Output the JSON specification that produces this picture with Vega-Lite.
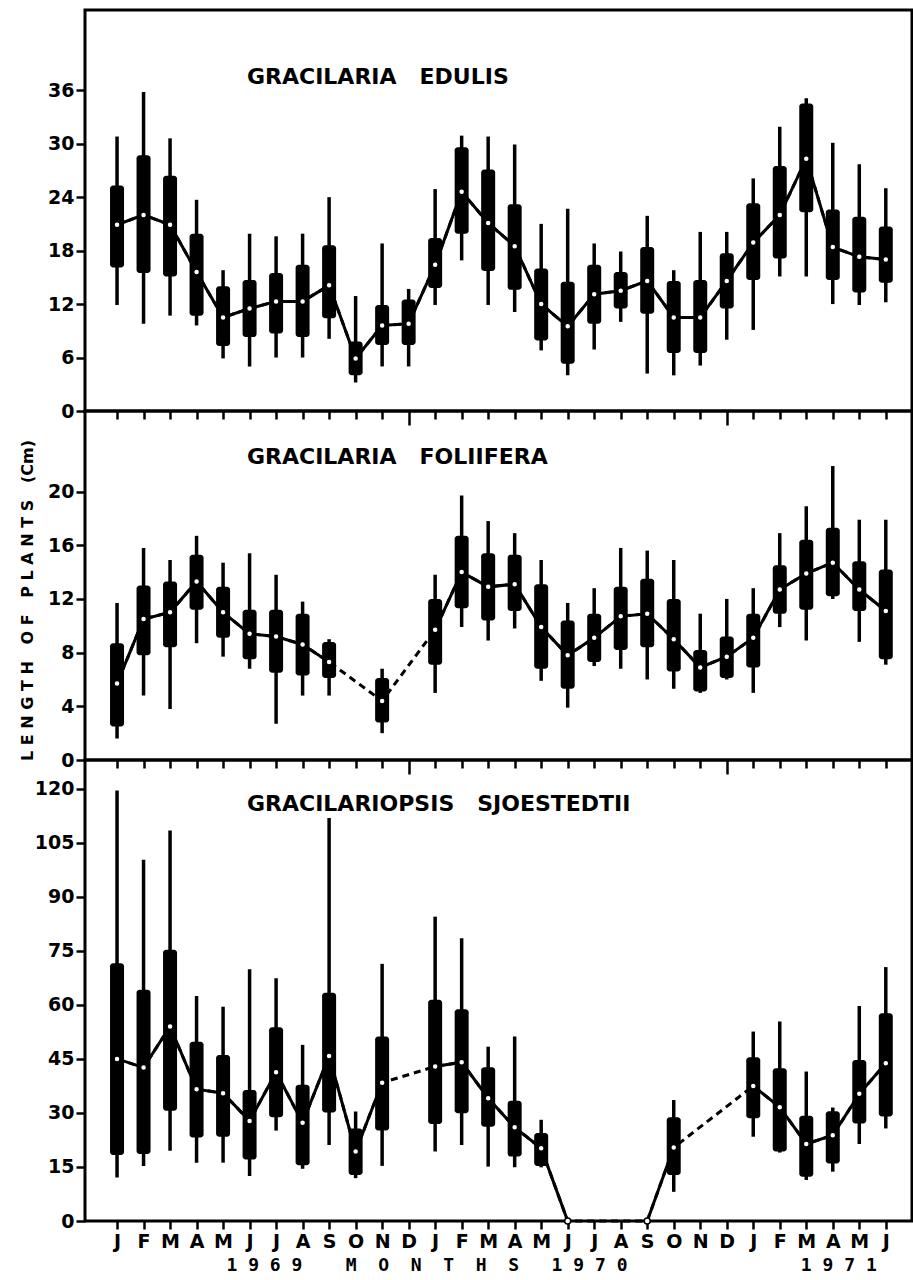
{
  "$schema": "https://vega.github.io/schema/vega-lite/v6.json",
  "background": "white",
  "padding": {"left": 17, "top": 8, "right": 0, "bottom": 0},
  "spacing": 0,
  "bounds": "flush",
  "config": {
    "view": {"stroke": "black", "strokeWidth": 3},
    "font": "DejaVu Sans",
    "axis": {"grid": false, "domain": false, "tickColor": "black", "tickWidth": 2.5, "labelColor": "black", "labelFont": "DejaVu Sans", "labelFontWeight": "bold", "labelFontSize": 19, "titleColor": "black", "labelOverlap": false, "labelFlush": false}
  },
  "data": {"values": [
    {"sp":"E","t":0,"min":11.9,"q1":16.1,"mean":20.9,"q3":25.3,"max":30.8,"run":1},
    {"sp":"E","t":1,"min":9.8,"q1":15.5,"mean":22.0,"q3":28.7,"max":35.8,"run":1},
    {"sp":"E","t":2,"min":10.7,"q1":15.1,"mean":20.9,"q3":26.4,"max":30.6,"run":1},
    {"sp":"E","t":3,"min":9.6,"q1":10.7,"mean":15.6,"q3":19.9,"max":23.7,"run":1},
    {"sp":"E","t":4,"min":5.9,"q1":7.3,"mean":10.5,"q3":14.0,"max":15.8,"run":1},
    {"sp":"E","t":5,"min":5.0,"q1":8.3,"mean":11.5,"q3":14.7,"max":19.9,"run":1},
    {"sp":"E","t":6,"min":6.0,"q1":8.7,"mean":12.3,"q3":15.5,"max":19.6,"run":1},
    {"sp":"E","t":7,"min":6.0,"q1":8.3,"mean":12.3,"q3":16.4,"max":19.9,"run":1},
    {"sp":"E","t":8,"min":8.1,"q1":10.4,"mean":14.1,"q3":18.6,"max":24.0,"run":1},
    {"sp":"E","t":9,"min":3.2,"q1":4.0,"mean":5.9,"q3":7.8,"max":12.9,"run":1},
    {"sp":"E","t":10,"min":5.0,"q1":7.4,"mean":9.6,"q3":11.9,"max":18.8,"run":1},
    {"sp":"E","t":11,"min":5.0,"q1":7.4,"mean":9.8,"q3":12.5,"max":13.7,"run":1},
    {"sp":"E","t":12,"min":11.9,"q1":13.8,"mean":16.4,"q3":19.4,"max":24.9,"run":1},
    {"sp":"E","t":13,"min":16.9,"q1":19.9,"mean":24.6,"q3":29.6,"max":30.9,"run":1},
    {"sp":"E","t":14,"min":11.9,"q1":15.7,"mean":21.1,"q3":27.1,"max":30.8,"run":1},
    {"sp":"E","t":15,"min":11.1,"q1":13.6,"mean":18.5,"q3":23.2,"max":29.9,"run":1},
    {"sp":"E","t":16,"min":6.8,"q1":7.9,"mean":12.0,"q3":16.0,"max":21.0,"run":1},
    {"sp":"E","t":17,"min":4.0,"q1":5.3,"mean":9.5,"q3":14.5,"max":22.7,"run":1},
    {"sp":"E","t":18,"min":6.9,"q1":9.8,"mean":13.1,"q3":16.4,"max":18.8,"run":1},
    {"sp":"E","t":19,"min":10.0,"q1":11.5,"mean":13.5,"q3":15.6,"max":17.9,"run":1},
    {"sp":"E","t":20,"min":4.2,"q1":10.9,"mean":14.6,"q3":18.4,"max":21.9,"run":1},
    {"sp":"E","t":21,"min":4.0,"q1":6.5,"mean":10.5,"q3":14.6,"max":15.8,"run":1},
    {"sp":"E","t":22,"min":5.1,"q1":6.5,"mean":10.5,"q3":14.7,"max":20.1,"run":1},
    {"sp":"E","t":23,"min":8.0,"q1":11.5,"mean":14.6,"q3":17.7,"max":20.1,"run":1},
    {"sp":"E","t":24,"min":9.1,"q1":14.7,"mean":18.9,"q3":23.3,"max":26.1,"run":1},
    {"sp":"E","t":25,"min":15.1,"q1":17.1,"mean":22.0,"q3":27.5,"max":31.9,"run":1},
    {"sp":"E","t":26,"min":15.1,"q1":22.3,"mean":28.3,"q3":34.5,"max":35.1,"run":1},
    {"sp":"E","t":27,"min":12.0,"q1":14.7,"mean":18.4,"q3":22.6,"max":30.1,"run":1},
    {"sp":"E","t":28,"min":11.9,"q1":13.3,"mean":17.3,"q3":21.8,"max":27.7,"run":1},
    {"sp":"E","t":29,"min":12.2,"q1":14.4,"mean":17.0,"q3":20.7,"max":25.0,"run":1},

    {"sp":"F","t":0,"min":1.6,"q1":2.5,"mean":5.7,"q3":8.7,"max":11.7,"run":1},
    {"sp":"F","t":1,"min":4.8,"q1":7.8,"mean":10.5,"q3":13.0,"max":15.8,"run":1},
    {"sp":"F","t":2,"min":3.8,"q1":8.4,"mean":11.0,"q3":13.3,"max":14.9,"run":1},
    {"sp":"F","t":3,"min":8.7,"q1":11.2,"mean":13.3,"q3":15.3,"max":16.7,"run":1},
    {"sp":"F","t":4,"min":7.7,"q1":9.1,"mean":11.0,"q3":12.9,"max":14.7,"run":1},
    {"sp":"F","t":5,"min":6.8,"q1":7.5,"mean":9.4,"q3":11.2,"max":15.4,"run":1},
    {"sp":"F","t":6,"min":2.7,"q1":6.5,"mean":9.2,"q3":11.2,"max":13.8,"run":1},
    {"sp":"F","t":7,"min":4.8,"q1":6.3,"mean":8.6,"q3":10.9,"max":11.8,"run":1},
    {"sp":"F","t":8,"min":4.8,"q1":6.1,"mean":7.3,"q3":8.8,"max":9.0,"run":1},
    {"sp":"F","t":10,"min":2.0,"q1":2.8,"mean":4.4,"q3":6.1,"max":6.8,"run":2},
    {"sp":"F","t":12,"min":5.0,"q1":7.1,"mean":9.7,"q3":12.0,"max":13.8,"run":3},
    {"sp":"F","t":13,"min":9.9,"q1":11.3,"mean":14.0,"q3":16.7,"max":19.7,"run":3},
    {"sp":"F","t":14,"min":8.9,"q1":10.4,"mean":12.9,"q3":15.4,"max":17.8,"run":3},
    {"sp":"F","t":15,"min":9.8,"q1":11.1,"mean":13.1,"q3":15.3,"max":16.9,"run":3},
    {"sp":"F","t":16,"min":5.9,"q1":6.8,"mean":9.9,"q3":13.1,"max":14.9,"run":3},
    {"sp":"F","t":17,"min":3.9,"q1":5.3,"mean":7.8,"q3":10.4,"max":11.7,"run":3},
    {"sp":"F","t":18,"min":7.0,"q1":7.3,"mean":9.1,"q3":10.9,"max":12.8,"run":3},
    {"sp":"F","t":19,"min":6.8,"q1":8.2,"mean":10.7,"q3":12.9,"max":15.8,"run":3},
    {"sp":"F","t":20,"min":6.0,"q1":8.4,"mean":10.9,"q3":13.5,"max":15.6,"run":3},
    {"sp":"F","t":21,"min":5.3,"q1":6.6,"mean":9.0,"q3":12.0,"max":14.9,"run":3},
    {"sp":"F","t":22,"min":5.0,"q1":5.1,"mean":6.9,"q3":8.2,"max":10.9,"run":3},
    {"sp":"F","t":23,"min":6.0,"q1":6.1,"mean":7.7,"q3":9.2,"max":12.0,"run":3},
    {"sp":"F","t":24,"min":5.0,"q1":6.9,"mean":9.1,"q3":10.9,"max":12.8,"run":3},
    {"sp":"F","t":25,"min":9.9,"q1":10.9,"mean":12.7,"q3":14.5,"max":16.9,"run":3},
    {"sp":"F","t":26,"min":8.9,"q1":11.2,"mean":13.9,"q3":16.4,"max":18.9,"run":3},
    {"sp":"F","t":27,"min":12.0,"q1":12.2,"mean":14.7,"q3":17.3,"max":21.9,"run":3},
    {"sp":"F","t":28,"min":8.8,"q1":11.1,"mean":12.7,"q3":14.8,"max":17.9,"run":3},
    {"sp":"F","t":29,"min":7.1,"q1":7.5,"mean":11.1,"q3":14.2,"max":17.9,"run":3},

    {"sp":"S","t":0,"min":12.1,"q1":18.3,"mean":45.0,"q3":71.6,"max":119.5,"run":1},
    {"sp":"S","t":1,"min":15.3,"q1":18.6,"mean":42.6,"q3":64.2,"max":100.3,"run":1},
    {"sp":"S","t":2,"min":19.5,"q1":30.6,"mean":54.0,"q3":75.3,"max":108.4,"run":1},
    {"sp":"S","t":3,"min":16.2,"q1":23.2,"mean":36.6,"q3":49.8,"max":62.5,"run":1},
    {"sp":"S","t":4,"min":16.2,"q1":23.4,"mean":35.5,"q3":46.1,"max":59.5,"run":1},
    {"sp":"S","t":5,"min":12.5,"q1":17.1,"mean":27.8,"q3":36.4,"max":69.9,"run":1},
    {"sp":"S","t":6,"min":25.1,"q1":28.8,"mean":41.3,"q3":53.8,"max":67.4,"run":1},
    {"sp":"S","t":7,"min":14.5,"q1":15.5,"mean":27.3,"q3":37.8,"max":48.9,"run":1},
    {"sp":"S","t":8,"min":21.1,"q1":30.1,"mean":45.8,"q3":63.4,"max":111.9,"run":1},
    {"sp":"S","t":9,"min":11.9,"q1":12.8,"mean":19.3,"q3":25.7,"max":30.4,"run":1},
    {"sp":"S","t":10,"min":15.3,"q1":25.1,"mean":38.4,"q3":51.2,"max":71.4,"run":1},
    {"sp":"S","t":12,"min":19.3,"q1":26.9,"mean":42.9,"q3":61.4,"max":84.5,"run":2},
    {"sp":"S","t":13,"min":21.1,"q1":29.9,"mean":44.1,"q3":58.8,"max":78.5,"run":2},
    {"sp":"S","t":14,"min":15.1,"q1":26.2,"mean":34.1,"q3":42.7,"max":48.4,"run":2},
    {"sp":"S","t":15,"min":14.9,"q1":17.9,"mean":26.0,"q3":33.4,"max":51.2,"run":2},
    {"sp":"S","t":16,"min":14.9,"q1":15.3,"mean":20.2,"q3":24.4,"max":28.1,"run":2},
    {"sp":"S","t":17,"min":null,"q1":null,"mean":0,"q3":null,"max":null,"run":2},
    {"sp":"S","t":20,"min":null,"q1":null,"mean":0,"q3":null,"max":null,"run":3},
    {"sp":"S","t":21,"min":8.1,"q1":12.8,"mean":20.4,"q3":28.8,"max":33.6,"run":3},
    {"sp":"S","t":24,"min":23.4,"q1":28.5,"mean":37.5,"q3":45.5,"max":52.6,"run":4},
    {"sp":"S","t":25,"min":19.0,"q1":19.3,"mean":31.6,"q3":42.4,"max":55.4,"run":4},
    {"sp":"S","t":26,"min":11.4,"q1":12.3,"mean":21.4,"q3":29.2,"max":41.5,"run":4},
    {"sp":"S","t":27,"min":13.7,"q1":16.0,"mean":23.8,"q3":30.5,"max":31.5,"run":4},
    {"sp":"S","t":28,"min":21.4,"q1":27.1,"mean":35.3,"q3":44.7,"max":59.7,"run":4},
    {"sp":"S","t":29,"min":25.7,"q1":29.0,"mean":43.8,"q3":57.7,"max":70.5,"run":4}
  ]},
  "vconcat": [
    {
      "width": 827, "height": 401,
      "title": {"text": "GRACILARIA\u00a0\u00a0\u00a0EDULIS", "anchor": "start", "frame": "group", "dx": 162, "offset": -89, "baseline": "middle", "fontSize": 22, "fontWeight": "bold", "font": "DejaVu Sans", "color": "black"},
      "transform": [{"filter": "datum.sp === 'E'"}],
      "encoding": {
        "x": {"field": "t", "type": "quantitative", "scale": {"domain": [-1.02, 29.8], "nice": false, "zero": false},
              "axis": {"values": [0,1,2,3,4,5,6,7,8,9,10,11,12,13,14,15,16,17,18,19,20,21,22,23,24,25,26,27,28,29], "labels": false, "title": null, "tickSize": {"condition": {"test": "datum.value == 11 || datum.value == 23", "value": 14}, "value": 8}}}
      },
      "layer": [
        {"mark": {"type": "line", "color": "black", "strokeWidth": 3, "strokeDash": [7, 5]},
         "encoding": {"y": {"field": "mean", "type": "quantitative", "scale": {"domain": [0, 45], "nice": false}, "axis": {"values": [0,6,12,18,24,30,36], "title": null, "tickSize": 9, "labelPadding": 2}}}},
        {"mark": {"type": "line", "color": "black", "strokeWidth": 3},
         "encoding": {"y": {"field": "mean", "type": "quantitative", "scale": {"domain": [0, 45], "nice": false}, "axis": {"values": [0,6,12,18,24,30,36], "title": null, "tickSize": 9, "labelPadding": 2}}, "detail": {"field": "run"}}},
        {"mark": {"type": "rule", "color": "black", "strokeWidth": 3.5},
         "encoding": {"y": {"field": "min", "type": "quantitative", "scale": {"domain": [0, 45], "nice": false}, "axis": {"values": [0,6,12,18,24,30,36], "title": null, "tickSize": 9, "labelPadding": 2}}, "y2": {"field": "max"}}},
        {"mark": {"type": "bar", "color": "black", "size": 14, "cornerRadius": 3},
         "encoding": {"y": {"field": "q1", "type": "quantitative", "scale": {"domain": [0, 45], "nice": false}, "axis": {"values": [0,6,12,18,24,30,36], "title": null, "tickSize": 9, "labelPadding": 2}}, "y2": {"field": "q3"}}},
        {"mark": {"type": "point", "filled": true, "fill": "white", "stroke": "black", "strokeWidth": 1.5, "size": 36, "opacity": 1},
         "encoding": {"y": {"field": "mean", "type": "quantitative", "scale": {"domain": [0, 45], "nice": false}, "axis": {"values": [0,6,12,18,24,30,36], "title": null, "tickSize": 9, "labelPadding": 2}}}}
      ]
    },
    {
      "width": 827, "height": 349,
      "title": {"text": "GRACILARIA\u00a0\u00a0\u00a0FOLIIFERA", "anchor": "start", "frame": "group", "dx": 162, "offset": -68, "baseline": "middle", "fontSize": 22, "fontWeight": "bold", "font": "DejaVu Sans", "color": "black"},
      "transform": [{"filter": "datum.sp === 'F'"}],
      "encoding": {
        "x": {"field": "t", "type": "quantitative", "scale": {"domain": [-1.02, 29.8], "nice": false, "zero": false},
              "axis": {"values": [0,1,2,3,4,5,6,7,8,9,10,11,12,13,14,15,16,17,18,19,20,21,22,23,24,25,26,27,28,29], "labels": false, "title": null, "tickSize": {"condition": {"test": "datum.value == 11 || datum.value == 23", "value": 14}, "value": 8}}}
      },
      "layer": [
        {"mark": {"type": "line", "color": "black", "strokeWidth": 3, "strokeDash": [7, 5]},
         "encoding": {"y": {"field": "mean", "type": "quantitative", "scale": {"domain": [0, 26], "nice": false}, "axis": {"values": [0,4,8,12,16,20], "title": "L\u00a0E\u00a0N\u00a0G\u00a0T\u00a0H\u00a0\u00a0\u00a0O\u00a0F\u00a0\u00a0\u00a0P\u00a0L\u00a0A\u00a0N\u00a0T\u00a0S\u00a0\u00a0\u00a0(Cm)", "titleFontSize": 16, "titleFontWeight": "bold", "titleAngle": 270, "titleX": -58, "titleY": 189, "titleAlign": "center", "titleBaseline": "middle", "tickSize": 9, "labelPadding": 2}}}},
        {"mark": {"type": "line", "color": "black", "strokeWidth": 3},
         "encoding": {"y": {"field": "mean", "type": "quantitative", "scale": {"domain": [0, 26], "nice": false}, "axis": {"values": [0,4,8,12,16,20], "title": "L\u00a0E\u00a0N\u00a0G\u00a0T\u00a0H\u00a0\u00a0\u00a0O\u00a0F\u00a0\u00a0\u00a0P\u00a0L\u00a0A\u00a0N\u00a0T\u00a0S\u00a0\u00a0\u00a0(Cm)", "titleFontSize": 16, "titleFontWeight": "bold", "titleAngle": 270, "titleX": -58, "titleY": 189, "titleAlign": "center", "titleBaseline": "middle", "tickSize": 9, "labelPadding": 2}}, "detail": {"field": "run"}}},
        {"mark": {"type": "rule", "color": "black", "strokeWidth": 3.5},
         "encoding": {"y": {"field": "min", "type": "quantitative", "scale": {"domain": [0, 26], "nice": false}, "axis": {"values": [0,4,8,12,16,20], "title": "L\u00a0E\u00a0N\u00a0G\u00a0T\u00a0H\u00a0\u00a0\u00a0O\u00a0F\u00a0\u00a0\u00a0P\u00a0L\u00a0A\u00a0N\u00a0T\u00a0S\u00a0\u00a0\u00a0(Cm)", "titleFontSize": 16, "titleFontWeight": "bold", "titleAngle": 270, "titleX": -58, "titleY": 189, "titleAlign": "center", "titleBaseline": "middle", "tickSize": 9, "labelPadding": 2}}, "y2": {"field": "max"}}},
        {"mark": {"type": "bar", "color": "black", "size": 14, "cornerRadius": 3},
         "encoding": {"y": {"field": "q1", "type": "quantitative", "scale": {"domain": [0, 26], "nice": false}, "axis": {"values": [0,4,8,12,16,20], "title": "L\u00a0E\u00a0N\u00a0G\u00a0T\u00a0H\u00a0\u00a0\u00a0O\u00a0F\u00a0\u00a0\u00a0P\u00a0L\u00a0A\u00a0N\u00a0T\u00a0S\u00a0\u00a0\u00a0(Cm)", "titleFontSize": 16, "titleFontWeight": "bold", "titleAngle": 270, "titleX": -58, "titleY": 189, "titleAlign": "center", "titleBaseline": "middle", "tickSize": 9, "labelPadding": 2}}, "y2": {"field": "q3"}}},
        {"mark": {"type": "point", "filled": true, "fill": "white", "stroke": "black", "strokeWidth": 1.5, "size": 36, "opacity": 1},
         "encoding": {"y": {"field": "mean", "type": "quantitative", "scale": {"domain": [0, 26], "nice": false}, "axis": {"values": [0,4,8,12,16,20], "title": "L\u00a0E\u00a0N\u00a0G\u00a0T\u00a0H\u00a0\u00a0\u00a0O\u00a0F\u00a0\u00a0\u00a0P\u00a0L\u00a0A\u00a0N\u00a0T\u00a0S\u00a0\u00a0\u00a0(Cm)", "titleFontSize": 16, "titleFontWeight": "bold", "titleAngle": 270, "titleX": -58, "titleY": 189, "titleAlign": "center", "titleBaseline": "middle", "tickSize": 9, "labelPadding": 2}}}}
      ]
    },
    {
      "width": 827, "height": 461,
      "title": {"text": "GRACILARIOPSIS\u00a0\u00a0\u00a0SJOESTEDTII", "anchor": "start", "frame": "group", "dx": 162, "offset": -66, "baseline": "middle", "fontSize": 22, "fontWeight": "bold", "font": "DejaVu Sans", "color": "black"},
      "transform": [{"filter": "datum.sp === 'S'"}],
      "encoding": {
        "x": {"field": "t", "type": "quantitative", "scale": {"domain": [-1.02, 29.8], "nice": false, "zero": false},
              "axis": {"values": [0,1,2,3,4,5,6,7,8,9,10,11,12,13,14,15,16,17,18,19,20,21,22,23,24,25,26,27,28,29], "labelExpr": "['J','F','M','A','M','J','J','A','S','O','N','D'][datum.value % 12]", "labelPadding": 3, "tickSize": 8,
                       "title": "1\u00a09\u00a06\u00a09\u00a0\u00a0\u00a0\u00a0M\u00a0\u00a0O\u00a0\u00a0N\u00a0\u00a0T\u00a0\u00a0H\u00a0\u00a0S\u00a0\u00a0\u00a01\u00a09\u00a07\u00a00\u00a0\u00a0\u00a0\u00a0\u00a0\u00a0\u00a0\u00a0\u00a0\u00a0\u00a0\u00a0\u00a0\u00a0\u00a0\u00a01\u00a09\u00a07\u00a01",
                       "titleFont": "DejaVu Sans Mono", "titleFontSize": 18, "titleFontWeight": "bold", "titleAnchor": "start", "titleAlign": "left", "titleX": 141, "titleY": 44, "titleBaseline": "middle"}}
      },
      "layer": [
        {"mark": {"type": "line", "color": "black", "strokeWidth": 3, "strokeDash": [7, 5]},
         "encoding": {"y": {"field": "mean", "type": "quantitative", "scale": {"domain": [0, 128], "nice": false}, "axis": {"values": [0,15,30,45,60,75,90,105,120], "title": null, "tickSize": 9, "labelPadding": 2}}}},
        {"mark": {"type": "line", "color": "black", "strokeWidth": 3},
         "encoding": {"y": {"field": "mean", "type": "quantitative", "scale": {"domain": [0, 128], "nice": false}, "axis": {"values": [0,15,30,45,60,75,90,105,120], "title": null, "tickSize": 9, "labelPadding": 2}}, "detail": {"field": "run"}}},
        {"mark": {"type": "rule", "color": "black", "strokeWidth": 3.5},
         "encoding": {"y": {"field": "min", "type": "quantitative", "scale": {"domain": [0, 128], "nice": false}, "axis": {"values": [0,15,30,45,60,75,90,105,120], "title": null, "tickSize": 9, "labelPadding": 2}}, "y2": {"field": "max"}}},
        {"mark": {"type": "bar", "color": "black", "size": 14, "cornerRadius": 3},
         "encoding": {"y": {"field": "q1", "type": "quantitative", "scale": {"domain": [0, 128], "nice": false}, "axis": {"values": [0,15,30,45,60,75,90,105,120], "title": null, "tickSize": 9, "labelPadding": 2}}, "y2": {"field": "q3"}}},
        {"mark": {"type": "point", "filled": true, "fill": "white", "stroke": "black", "strokeWidth": 1.5, "size": 36, "opacity": 1},
         "encoding": {"y": {"field": "mean", "type": "quantitative", "scale": {"domain": [0, 128], "nice": false}, "axis": {"values": [0,15,30,45,60,75,90,105,120], "title": null, "tickSize": 9, "labelPadding": 2}}}}
      ]
    }
  ]
}
